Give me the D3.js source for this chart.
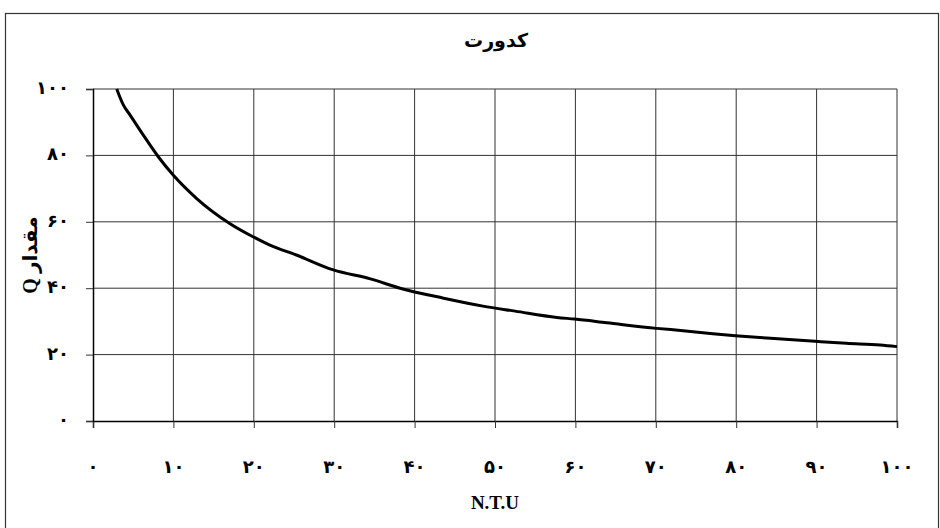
<!DOCTYPE html>
<html>
<head>
<meta charset="utf-8">
<script src="https://cdn.jsdelivr.net/npm/d3@7"></script>
<style>
  body { margin: 0; background: #fff; }
  text { font-family: "Liberation Serif", "DejaVu Sans", serif; font-weight: bold; }
</style>
</head>
<body>
<svg id="chart"></svg>
<script>
// turbidity (N.T.U) vs Q value
const turbidity = [2.95, 3.77, 4.6, 6.26, 8.12, 10, 12.9, 17, 19.9, 22, 25.3, 29.9, 34.5, 38.2, 43.6, 48.5, 52.5, 57.7, 59.9, 63.9, 70.1, 73.4, 77.1, 79.9, 83.8, 89.8, 93.7, 97.9, 100];
const qValue = [100, 95.2, 92.2, 86.1, 79.6, 74, 67, 59.5, 55.5, 53, 50, 45.5, 42.8, 40, 37, 34.6, 33.1, 31.2, 30.7, 29.6, 27.9, 27.2, 26.3, 25.7, 25, 24, 23.4, 22.9, 22.4];

const xTicks = [0, 10, 20, 30, 40, 50, 60, 70, 80, 90, 100];
const xTickLabels = ["۰", "۱۰", "۲۰", "۳۰", "۴۰", "۵۰", "۶۰", "۷۰", "۸۰", "۹۰", "۱۰۰"];
const yTicks = [0, 20, 40, 60, 80, 100];
const yTickLabels = ["۰", "۲۰", "۴۰", "۶۰", "۸۰", "۱۰۰"];

const title = "کدورت";
const xTitle = "N.T.U";
const yTitle = "مقدار Q";

const width = 940, height = 528;
const margin = { top: 89, right: 43, bottom: 107, left: 93 };

const svg = d3.select("#chart")
  .attr("width", width)
  .attr("height", height);

// outer frame
svg.append("rect")
  .attr("x", 5.5).attr("y", 13.5)
  .attr("width", 933).attr("height", 530)
  .attr("fill", "none")
  .attr("stroke", "#333")
  .attr("stroke-width", 1.2);

const x = d3.scaleLinear().domain([0, 100]).range([margin.left, width - margin.right]);
const y = d3.scaleLinear().domain([0, 100]).range([height - margin.bottom, margin.top]);

// grid
svg.append("g")
  .selectAll("line")
  .data(xTicks.slice(1))
  .join("line")
  .attr("x1", d => x(d)).attr("x2", d => x(d))
  .attr("y1", y(0)).attr("y2", y(100))
  .attr("stroke", "#333").attr("stroke-width", 1);

svg.append("g")
  .selectAll("line")
  .data(yTicks.slice(1))
  .join("line")
  .attr("x1", x(0)).attr("x2", x(100))
  .attr("y1", d => y(d)).attr("y2", d => y(d))
  .attr("stroke", "#333").attr("stroke-width", 1);

// axes
const xAxis = svg.append("g")
  .attr("transform", "translate(0," + y(0) + ")")
  .call(d3.axisBottom(x).tickValues(xTicks).tickSize(7).tickFormat(""));
xAxis.select(".domain").attr("stroke", "#000").attr("stroke-width", 1.5);
xAxis.selectAll(".tick line").attr("stroke", "#333");

const yAxis = svg.append("g")
  .attr("transform", "translate(" + x(0) + ",0)")
  .call(d3.axisLeft(y).tickValues(yTicks).tickSize(7).tickFormat(""));
yAxis.select(".domain").attr("stroke", "#000").attr("stroke-width", 1.5);
yAxis.selectAll(".tick line").attr("stroke", "#333");

// tick labels
svg.append("g")
  .selectAll("text")
  .data(xTicks)
  .join("text")
  .attr("x", d => x(d))
  .attr("y", 473)
  .attr("text-anchor", "middle")
  .attr("font-size", 18)
  .text((d, i) => xTickLabels[i]);

svg.append("g")
  .selectAll("text")
  .data(yTicks)
  .join("text")
  .attr("x", 69)
  .attr("y", d => y(d) + 5)
  .attr("text-anchor", "end")
  .attr("font-size", 18)
  .text((d, i) => yTickLabels[i]);

// the curve
const line = d3.line()
  .x((d, i) => x(turbidity[i]))
  .y(d => y(d))
  .curve(d3.curveMonotoneX);

svg.append("path")
  .datum(qValue)
  .attr("fill", "none")
  .attr("stroke", "#000")
  .attr("stroke-width", 3)
  .attr("stroke-linejoin", "round")
  .attr("d", line);

// titles
svg.append("text")
  .attr("x", 496).attr("y", 47)
  .attr("text-anchor", "middle")
  .attr("font-size", 19)
  .text(title);

svg.append("text")
  .attr("x", 495).attr("y", 509)
  .attr("text-anchor", "middle")
  .attr("font-size", 19)
  .text(xTitle);

svg.append("text")
  .attr("transform", "translate(37,255) rotate(-90)")
  .attr("text-anchor", "middle")
  .attr("font-size", 20)
  .attr("direction", "rtl")
  .text(yTitle);
</script>
</body>
</html>
